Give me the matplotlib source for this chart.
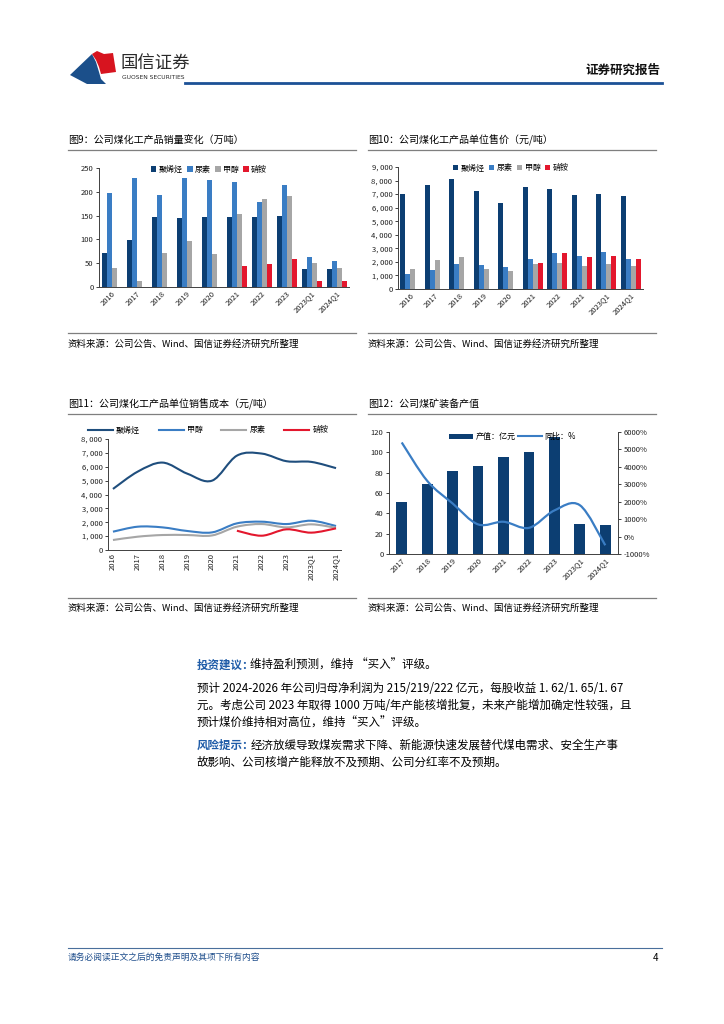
import matplotlib
matplotlib.use("Agg")
import matplotlib.pyplot as plt
import numpy as np
from matplotlib.path import Path
from matplotlib.patches import PathPatch, Polygon
from matplotlib.ticker import FuncFormatter

plt.rcParams['font.family'] = ['Noto Sans CJK SC', 'DejaVu Sans']
plt.rcParams['axes.unicode_minus'] = False

# ---------------- data ----------------
cats = ['2016', '2017', '2018', '2019', '2020', '2021', '2022', '2023', '2023Q1', '2024Q1']
cats10 = ['2016', '2017', '2018', '2019', '2020', '2021', '2022', '2021', '2023Q1', '2024Q1']
nan = np.nan

# Fig 9: sales volume (万吨)
vol_polyolefin = [72, 99, 147, 146, 147, 147, 147, 149, 37, 37]
vol_urea = [198, 229, 193, 230, 225, 221, 179, 215, 64, 55]
vol_methanol = [40, 13, 72, 97, 69, 154, 185, 192, 51, 40]
vol_nitrate = [nan, nan, nan, nan, nan, 44, 48, 59, 12, 13]

# Fig 10: unit price (元/吨)
price_polyolefin = [6990, 7650, 8090, 7210, 6380, 7500, 7380, 6920, 7040, 6840]
price_urea = [1100, 1400, 1810, 1770, 1590, 2210, 2620, 2400, 2720, 2210]
price_methanol = [1470, 2130, 2350, 1500, 1350, 1810, 1910, 1720, 1810, 1690]
price_nitrate = [nan, nan, nan, nan, nan, 1910, 2650, 2350, 2430, 2210]

# Fig 11: unit cost (元/吨)
cost_polyolefin = [4400, 5650, 6300, 5500, 5000, 6800, 6950, 6400, 6350, 5900]
cost_methanol = [1320, 1680, 1630, 1370, 1270, 1920, 2040, 1870, 2110, 1730]
cost_urea = [720, 960, 1080, 1080, 1050, 1680, 1870, 1630, 1850, 1600]
cost_nitrate = [nan, nan, nan, nan, nan, 1390, 1030, 1490, 1250, 1560]

# Fig 12: coal mining equipment output
cats12 = ['2017', '2018', '2019', '2020', '2021', '2022', '2023', '2023Q1', '2024Q1']
equip_value = [51, 69, 82, 87, 95, 100, 115, 30, 29]
equip_yoy = [5400, 3200, 1900, 700, 850, 500, 1500, 1800, -500]

# ---------------- style ----------------
C_DARK = '#0c3e72'
C_BLUE = '#3a7dc4'
C_GRAY = '#a6a6a6'
C_RED = '#e3172d'
C_LINE_DARK = '#1f4e7d'
FS_TICK = 5.5
FS_TITLE = 7.2
FS_SRC = 6.8
FS_LEG = 5.8

W, H = 724, 1024
fig = plt.figure(figsize=(W / 100, H / 100), dpi=100)


def fx(x):
    return x / W


def fy(y):
    return 1 - y / H


def add_ax(x0, ytop, x1, ybot):
    return fig.add_axes([fx(x0), fy(ybot), (x1 - x0) / W, (ybot - ytop) / H])


def hline(x0, x1, y, color='#7f7f7f', lw=0.9):
    fig.add_artist(plt.Line2D([fx(x0), fx(x1)], [fy(y), fy(y)], color=color, lw=lw,
                              transform=fig.transFigure))


def style_axes(ax):
    for s in ['top', 'right']:
        ax.spines[s].set_visible(False)
    for s in ['left', 'bottom']:
        ax.spines[s].set_color('#404040')
        ax.spines[s].set_linewidth(0.7)
    ax.tick_params(labelsize=FS_TICK, length=2, width=0.6, colors='#202020', pad=2)


def smooth_path(xs, ys, k=1 / 6):
    pts = [(x, y) for x, y in zip(xs, ys) if not np.isnan(y)]
    verts = [pts[0]]
    codes = [Path.MOVETO]
    n = len(pts)
    for i in range(n - 1):
        p0 = pts[i - 1] if i > 0 else pts[i]
        p1 = pts[i]
        p2 = pts[i + 1]
        p3 = pts[i + 2] if i + 2 < n else pts[i + 1]
        c1 = (p1[0] + (p2[0] - p0[0]) * k, p1[1] + (p2[1] - p0[1]) * k)
        c2 = (p2[0] - (p3[0] - p1[0]) * k, p2[1] - (p3[1] - p1[1]) * k)
        verts += [c1, c2, p2]
        codes += [Path.CURVE4] * 3
    return Path(verts, codes)


def thousands(v, pos):
    v = int(v)
    if v == 0:
        return '0'
    return f'{v:,}'.replace(',', ', ')


# ---------------- header ----------------
blue_logo = Polygon([(fx(70), fy(75)), (fx(92), fy(54)), (fx(96), fy(62)), (fx(99), fy(72)),
                     (fx(101), fy(79)), (fx(106), fy(84)), (fx(87), fy(84))],
                    closed=True, transform=fig.transFigure, color='#1b4f8a', lw=0)
red_logo = Polygon([(fx(92), fy(54)), (fx(97), fy(51)), (fx(104), fy(54)), (fx(113), fy(53)),
                    (fx(116), fy(72)), (fx(101), fy(74)), (fx(99), fy(67)), (fx(96), fy(60))],
                   closed=True, transform=fig.transFigure, color='#d7141f', lw=0)
fig.add_artist(blue_logo)
fig.add_artist(red_logo)
fig.text(fx(121), fy(64), '国信证券', fontsize=12.5, color='#2a2a2a', va='center', ha='left')
fig.text(fx(122), fy(77.5), 'GUOSEN SECURITIES', fontsize=4.3, color='#2a2a2a', va='center',
         ha='left', family=['DejaVu Sans'])
fig.text(fx(660), fy(70), '证券研究报告', fontsize=9, color='#111111', va='center', ha='right',
         fontweight='bold')
hline(185, 662, 82.5, color='#1c5196', lw=2)

x = np.arange(len(cats))
bw = 0.2
off0 = -0.5 + 0.1

# ---------------- Fig 9 ----------------
fig.text(fx(68), fy(140), '图9：公司煤化工产品销量变化（万吨）', fontsize=FS_TITLE, va='center')
hline(68, 356, 150)
ax9 = add_ax(99, 168, 349, 287)
series9 = [(vol_polyolefin, C_DARK, '聚烯烃'), (vol_urea, C_BLUE, '尿素'),
           (vol_methanol, C_GRAY, '甲醇'), (vol_nitrate, C_RED, '硝铵')]
for i, (vals, col, lab) in enumerate(series9):
    ax9.bar(x + off0 + bw * (i + 0.5), vals, width=bw, color=col, label=lab, lw=0)
ax9.set_xlim(-0.5, len(cats) - 0.5)
ax9.set_ylim(0, 250)
ax9.set_yticks(range(0, 251, 50))
ax9.set_xticks(x)
ax9.set_xticklabels(cats, rotation=45, ha='right', rotation_mode='anchor')
style_axes(ax9)
ax9.tick_params(axis='x', length=0)
ax9.legend(loc='upper center', bbox_to_anchor=(0.44, 1.09), ncol=4, fontsize=FS_LEG, frameon=False,
           handlelength=0.7, handleheight=0.7, handletextpad=0.3, columnspacing=0.5)
hline(68, 356, 333)
fig.text(fx(68), fy(344), '资料来源：公司公告、Wind、国信证券经济研究所整理', fontsize=FS_SRC, va='center')

# ---------------- Fig 10 ----------------
fig.text(fx(368), fy(140), '图10：公司煤化工产品单位售价（元/吨）', fontsize=FS_TITLE, va='center')
hline(368, 656, 150)
ax10 = add_ax(398, 167, 643, 289)
series10 = [(price_polyolefin, C_DARK, '聚烯烃'), (price_urea, C_BLUE, '尿素'),
            (price_methanol, C_GRAY, '甲醇'), (price_nitrate, C_RED, '硝铵')]
for i, (vals, col, lab) in enumerate(series10):
    ax10.bar(x + off0 + bw * (i + 0.5), vals, width=bw, color=col, label=lab, lw=0)
ax10.set_xlim(-0.5, len(cats10) - 0.5)
ax10.set_ylim(0, 9000)
ax10.set_yticks(range(0, 9001, 1000))
ax10.yaxis.set_major_formatter(FuncFormatter(thousands))
ax10.set_xticks(x)
ax10.set_xticklabels(cats10, rotation=45, ha='right', rotation_mode='anchor')
style_axes(ax10)
ax10.tick_params(axis='x', length=0)
ax10.legend(loc='upper center', bbox_to_anchor=(0.46, 1.09), ncol=4, fontsize=FS_LEG, frameon=False,
            handlelength=0.7, handleheight=0.7, handletextpad=0.3, columnspacing=0.5)
hline(368, 656, 333)
fig.text(fx(368), fy(344), '资料来源：公司公告、Wind、国信证券经济研究所整理', fontsize=FS_SRC, va='center')

# ---------------- Fig 11 ----------------
fig.text(fx(68), fy(404), '图11：公司煤化工产品单位销售成本（元/吨）', fontsize=FS_TITLE, va='center')
hline(68, 356, 414)
ax11 = add_ax(108, 439, 341, 550)
series11 = [(cost_polyolefin, C_LINE_DARK, '聚烯烃'), (cost_methanol, C_BLUE, '甲醇'),
            (cost_urea, C_GRAY, '尿素'), (cost_nitrate, C_RED, '硝铵')]
for vals, col, lab in series11:
    ax11.add_patch(PathPatch(smooth_path(x, np.array(vals, dtype=float)), fill=False,
                             edgecolor=col, lw=1.5))
    ax11.plot([], [], color=col, lw=1.5, label=lab)
ax11.set_xlim(-0.2, len(cats) - 0.8)
ax11.set_ylim(0, 8000)
ax11.set_yticks(range(0, 8001, 1000))
ax11.yaxis.set_major_formatter(FuncFormatter(thousands))
ax11.set_xticks(x)
ax11.set_xticklabels(cats, rotation=90)
style_axes(ax11)
ax11.tick_params(axis='x', length=0)
ax11.legend(loc='lower center', bbox_to_anchor=(0.43, 0.99), ncol=4, fontsize=FS_LEG, frameon=False,
            handlelength=3.1, handletextpad=0.4, columnspacing=2.3, borderpad=0.2)
hline(68, 356, 598)
fig.text(fx(68), fy(608), '资料来源：公司公告、Wind、国信证券经济研究所整理', fontsize=FS_SRC, va='center')

# ---------------- Fig 12 ----------------
fig.text(fx(368), fy(404), '图12：公司煤矿装备产值', fontsize=FS_TITLE, va='center')
hline(368, 656, 414)
ax12 = add_ax(389, 432, 618, 554)
x12 = np.arange(len(cats12))
ax12.bar(x12, equip_value, width=0.42, color=C_DARK, lw=0, label='产值：亿元', zorder=2)
ax12.set_xlim(-0.5, len(cats12) - 0.5)
ax12.set_ylim(0, 120)
ax12.set_yticks(range(0, 121, 20))
ax12.set_xticks(x12)
ax12.set_xticklabels(cats12, rotation=45, ha='right', rotation_mode='anchor')
style_axes(ax12)
ax12.tick_params(axis='x', length=0)
ax12r = ax12.twinx()
ax12r.add_patch(PathPatch(smooth_path(x12, np.array(equip_yoy, dtype=float)), fill=False,
                          edgecolor=C_BLUE, lw=1.6))
ax12r.plot([], [], color=C_BLUE, lw=1.5, label='同比：%')
ax12r.set_ylim(-1000, 6000)
ax12r.set_yticks(range(-1000, 6001, 1000))
ax12r.yaxis.set_major_formatter(FuncFormatter(lambda v, p: f'{int(v)}%'))
for s in ['top', 'left', 'bottom']:
    ax12r.spines[s].set_visible(False)
ax12r.spines['right'].set_color('#404040')
ax12r.spines['right'].set_linewidth(0.7)
ax12r.tick_params(labelsize=FS_TICK, length=2, width=0.6, colors='#202020', pad=2)
h1, l1 = ax12.get_legend_handles_labels()
h2, l2 = ax12r.get_legend_handles_labels()
ax12r.legend(h1 + h2, l1 + l2, loc='upper center', bbox_to_anchor=(0.54, 1.06), ncol=2,
             fontsize=FS_LEG, frameon=False, handlelength=3.0, handleheight=0.6,
             handletextpad=0.3, columnspacing=0.3)
hline(368, 656, 598)
fig.text(fx(368), fy(608), '资料来源：公司公告、Wind、国信证券经济研究所整理', fontsize=FS_SRC, va='center')

# ---------------- body text ----------------
FS_BODY = 8.3
C_HEAD = '#1f5ca8'
renderer = fig.canvas.get_renderer()


def head_and_text(y, head, rest):
    t = fig.text(fx(197), fy(y), head, fontsize=FS_BODY, color=C_HEAD, fontweight='bold', va='center')
    bb = t.get_window_extent(renderer)
    fig.text((bb.x1 - 4) / W, fy(y), rest, fontsize=FS_BODY, va='center')


head_and_text(665, '投资建议：', '维持盈利预测，维持 “买入”评级。')
body_lines = ['预计 2024-2026 年公司归母净利润为 215/219/222 亿元，每股收益 1. 62/1. 65/1. 67',
              '元。考虑公司 2023 年取得 1000 万吨/年产能核增批复，未来产能增加确定性较强，且',
              '预计煤价维持相对高位，维持“买入”评级。']
for i, line in enumerate(body_lines):
    fig.text(fx(197), fy(688 + 17.5 * i), line, fontsize=FS_BODY, va='center')
head_and_text(745, '风险提示：', '经济放缓导致煤炭需求下降、新能源快速发展替代煤电需求、安全生产事')
fig.text(fx(197), fy(762), '故影响、公司核增产能释放不及预期、公司分红率不及预期。', fontsize=FS_BODY, va='center')

# ---------------- footer ----------------
hline(68, 662, 948, color='#4a6f9c', lw=0.8)
fig.text(fx(68), fy(957), '请务必阅读正文之后的免责声明及其项下所有内容', fontsize=6.3, color='#1f4e8c',
         style='italic', va='center')
fig.text(fx(658), fy(958), '4', fontsize=7, va='center', ha='right')

fig.savefig('out.png', dpi=100)
